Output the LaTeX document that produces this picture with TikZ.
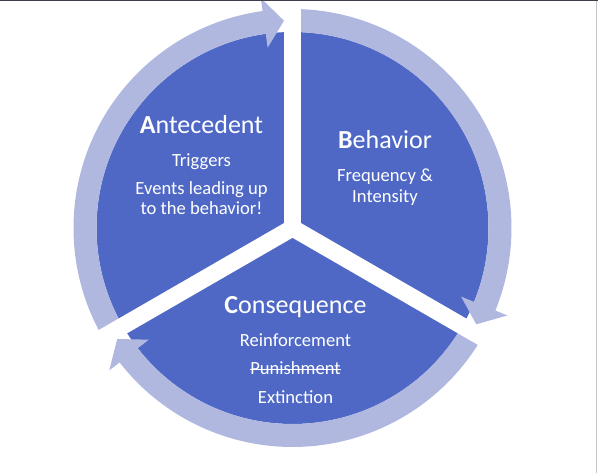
\documentclass[tikz,border=0pt]{standalone}
\usepackage{fontspec}
\setmainfont{Carlito}
\definecolor{wedgeblue}{HTML}{4F68C6}
\definecolor{ringblue}{HTML}{B1B8E0}
\definecolor{topline}{HTML}{3C4048}
\definecolor{sideline}{HTML}{C4C6CC}
\def\Rin{196}
\def\Rout{219}
\def\Rhin{182}
\def\Rhout{232}
\def\Rmid{207.5}
% #1 start angle, #2 head base angle, #3 tip angle
\newcommand\myringarrow[3]{%
  \fill[ringblue] (#1:\Rout) arc[start angle=#1, end angle=#2, radius=\Rout]
    -- (#2:\Rhout) -- (#3:\Rmid) -- (#2:\Rhin) -- (#2:\Rin)
    arc[start angle=#2, end angle=#1, radius=\Rin] -- cycle;}
\begin{document}
\begin{tikzpicture}[x=1pt,y=1pt,
  titletext/.style={text=white, font=\fontsize{26}{28}\selectfont, anchor=base, inner sep=0pt},
  bodytext/.style={text=white, font=\fontsize{18.6}{20.5}\selectfont, anchor=base, inner sep=0pt},
  gapbar/.style={draw=white, line width=17pt},
  strike/.style={draw=white, line width=1.3pt}]
\useasboundingbox (0,0) rectangle (598,473);
\fill[white] (0,0) rectangle (598,473);
\begin{scope}[shift={(292.5,245)}]
  \fill[wedgeblue] (0,0) circle[radius=196];
  \myringarrow{210}{97.85}{92.35}
  \myringarrow{90}{-22.15}{-27.65}
  \myringarrow{-30}{-142.15}{-147.65}
  \draw[gapbar] (0,0) -- (90:250);
  \draw[gapbar] (0,0) -- (210:250);
  \draw[gapbar] (0,0) -- (330:250);
\end{scope}
% Antecedent
\node[titletext] (antTitle) at (201.5,339.7) {\textbf{A}ntecedent};
\node[bodytext] (antA) at (201.5,306.3) {Triggers};
\node[bodytext] (antB) at (201.5,278) {Events leading up};
\node[bodytext] (antC) at (201.5,258.3) {to the behavior!};
% Behavior
\node[titletext] (behTitle) at (385,324.7) {\textbf{B}ehavior};
\node[bodytext] (behA) at (385,291.3) {Frequency \&};
\node[bodytext] (behB) at (385,270.7) {Intensity};
% Consequence
\node[titletext] (conTitle) at (295.5,159.7) {\textbf{C}onsequence};
\node[bodytext] (conA) at (295.5,126.3) {Reinforcement};
\node[bodytext] (conB) at (295.5,98) {Punishment};
\draw[strike] ([yshift=5.6pt]conB.base west) -- ([yshift=5.6pt]conB.base east);
\node[bodytext] (conC) at (295.5,69.7) {Extinction};
% frame lines
\fill[topline] (0,472) rectangle (598,473);
\fill[sideline] (596,0) rectangle (597.2,472);
\end{tikzpicture}
\end{document}
